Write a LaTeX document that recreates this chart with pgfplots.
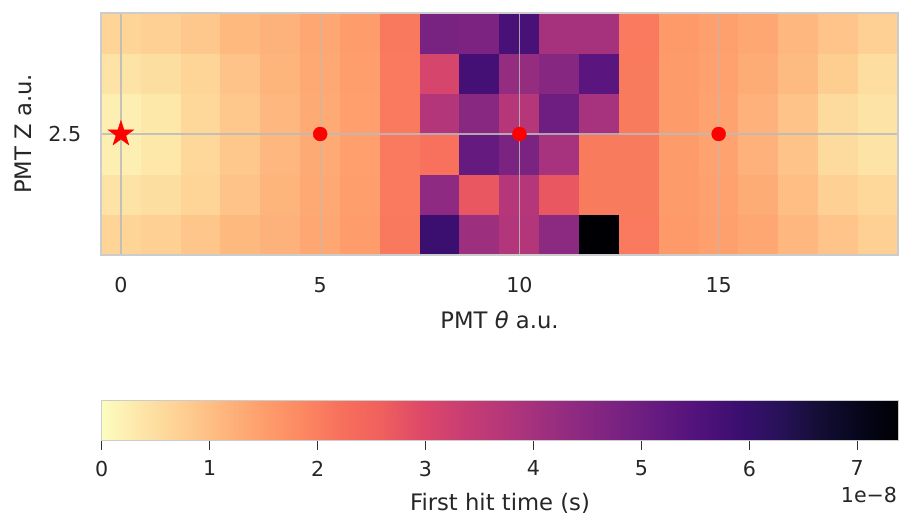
\documentclass[border=0pt]{standalone}
\usepackage{fontspec}
\setmainfont{DejaVu Sans}
\usepackage{pgfplots}
\pgfplotsset{compat=1.18}
\definecolor{txtgray}{HTML}{262626}
\definecolor{framegray}{HTML}{CCCCCC}
\definecolor{gridgray}{HTML}{BBBBBB}
\definecolor{tickgray}{HTML}{333333}
\newcommand{\labfont}{\fontsize{22.7}{27}\selectfont}
\pgfplotsset{colormap={magmar}{
 rgb255=(252,253,191) rgb255=(253,229,167) rgb255=(254,207,146) rgb255=(254,183,126)
 rgb255=(254,159,109) rgb255=(252,137,97) rgb255=(247,112,92) rgb255=(240,96,93)
 rgb255=(222,73,104) rgb255=(202,62,114) rgb255=(183,55,121) rgb255=(161,48,126)
 rgb255=(140,41,129) rgb255=(120,34,129) rgb255=(100,26,128) rgb255=(81,18,124)
 rgb255=(59,15,112) rgb255=(40,17,89) rgb255=(20,14,54) rgb255=(7,6,28) rgb255=(0,0,4)
}}
\pgfdeclareplotmark{fstar}{%
  \pgfpathmoveto{\pgfqpointpolar{90}{1\pgfplotmarksize}}%
  \pgfpathlineto{\pgfqpointpolar{126}{0.382\pgfplotmarksize}}%
  \pgfpathlineto{\pgfqpointpolar{162}{1\pgfplotmarksize}}%
  \pgfpathlineto{\pgfqpointpolar{198}{0.382\pgfplotmarksize}}%
  \pgfpathlineto{\pgfqpointpolar{234}{1\pgfplotmarksize}}%
  \pgfpathlineto{\pgfqpointpolar{270}{0.382\pgfplotmarksize}}%
  \pgfpathlineto{\pgfqpointpolar{306}{1\pgfplotmarksize}}%
  \pgfpathlineto{\pgfqpointpolar{342}{0.382\pgfplotmarksize}}%
  \pgfpathlineto{\pgfqpointpolar{18}{1\pgfplotmarksize}}%
  \pgfpathlineto{\pgfqpointpolar{54}{0.382\pgfplotmarksize}}%
  \pgfpathclose
  \pgfusepathqfillstroke
}
\begin{document}
\fontsize{20.6}{24.7}\selectfont
\begin{tikzpicture}
\begin{axis}[
  at={(101pt,262pt)}, anchor=south west,
  scale only axis, width=797pt, height=242pt,
  set layers,
  xmin=-0.5, xmax=19.5, ymin=-0.5, ymax=5.5,
  xtick={0,5,10,15}, ytick={2.5},
  major tick length=0pt,
  grid=major,
  grid style={draw=gridgray, draw opacity=0.85, line width=1.3pt},
  axis line style={draw=framegray, line width=1.5pt},
  /pgf/number format/assume math mode=true,
  tick label style={text=txtgray},
  xticklabel style={yshift=-15pt},
  yticklabel style={xshift=-12.8pt},
  xlabel={PMT {\itshape θ} a.u.},
  ylabel={PMT Z a.u.},
  xlabel style={at={(axis description cs:0.5,-0.2686)}, anchor=center, text=txtgray, font=\labfont},
  ylabel style={at={(axis description cs:-0.0979,0.5)}, anchor=center, text=txtgray, font=\labfont},
  colormap name=magmar,
  point meta min=0, point meta max=7.38,
]
\addplot[matrix plot*, mesh/cols=20, point meta=explicit, on layer=axis background]
table[meta=c] {
x y c
0 0 0.65
1 0 0.72
2 0 0.87
3 0 1.08
4 0 1.18
5 0 1.36
6 0 1.52
7 0 2.08
8 0 5.90
9 0 4.13
10 0 3.76
11 0 4.43
12 0 7.38
13 0 2.06
14 0 1.56
15 0 1.46
16 0 1.35
17 0 1.10
18 0 0.90
19 0 0.72
0 1 0.40
1 1 0.48
2 1 0.65
3 1 0.92
4 1 1.14
5 1 1.33
6 1 1.50
7 1 2.07
8 1 4.40
9 1 2.72
10 1 3.70
11 1 2.72
12 1 2.05
13 1 2.05
14 1 1.55
15 1 1.45
16 1 1.27
17 1 1.00
18 1 0.72
19 1 0.60
0 2 0.22
1 2 0.33
2 2 0.58
3 2 0.85
4 2 1.10
5 2 1.30
6 2 1.48
7 2 2.06
8 2 2.20
9 2 5.15
10 2 4.75
11 2 3.95
12 2 2.05
13 2 2.05
14 2 1.54
15 2 1.43
16 2 1.20
17 2 0.92
18 2 0.55
19 2 0.38
0 3 0.22
1 3 0.33
2 3 0.58
3 3 0.85
4 3 1.10
5 3 1.30
6 3 1.48
7 3 2.06
8 3 3.76
9 3 4.50
10 3 3.70
11 3 5.00
12 3 3.95
13 3 2.05
14 3 1.54
15 3 1.43
16 3 1.20
17 3 0.92
18 3 0.55
19 3 0.38
0 4 0.40
1 4 0.48
2 4 0.65
3 4 0.92
4 4 1.14
5 4 1.33
6 4 1.50
7 4 2.07
8 4 3.10
9 4 5.75
10 4 4.28
11 4 4.54
12 4 5.35
13 4 2.05
14 4 1.55
15 4 1.45
16 4 1.27
17 4 1.05
18 4 0.75
19 4 0.50
0 5 0.65
1 5 0.72
2 5 0.86
3 5 1.08
4 5 1.18
5 5 1.36
6 5 1.52
7 5 2.08
8 5 4.80
9 5 4.72
10 5 5.68
11 5 3.98
12 5 3.98
13 5 2.06
14 5 1.56
15 5 1.46
16 5 1.35
17 5 1.10
18 5 0.90
19 5 0.72
};
\addplot[only marks, mark=fstar, mark size=13.5pt, draw=red, fill=red] coordinates {(0,2.5)};
\addplot[only marks, mark=*, mark size=7pt, draw=red, fill=red] coordinates {(5,2.5) (10,2.5) (15,2.5)};
\end{axis}
\begin{axis}[
  at={(101.7pt,76.3pt)}, anchor=south west,
  scale only axis, width=796.6pt, height=40pt,
  xmin=0, xmax=7.38, ymin=0, ymax=1,
  clip=false,
  xtick={0,1,...,7}, ytick=\empty,
  xtick pos=left, xtick align=outside, major tick length=9pt,
  xtick style={draw=tickgray, line width=1.3pt},
  axis line style={draw=framegray, line width=1.5pt},
  axis on top,
  /pgf/number format/assume math mode=true,
  xticklabel style={yshift=-4pt, text=txtgray},
  xlabel={First hit time (s)},
  xlabel style={at={(axis description cs:0.5,-1.56)}, anchor=center, text=txtgray, font=\labfont},
  colormap name=magmar, point meta min=0, point meta max=7.38,
]
\addplot[patch, shader=interp, point meta=x] coordinates {(0,0) (7.38,0) (7.38,1) (0,0) (7.38,1) (0,1)};
\node[anchor=east, inner sep=0pt, text=txtgray] at (axis description cs:0.9987,-1.358) {1e−8};
\end{axis}
\pgfresetboundingbox
\path[use as bounding box] (0pt,0pt) rectangle (900pt,517pt);
\end{tikzpicture}
\end{document}
